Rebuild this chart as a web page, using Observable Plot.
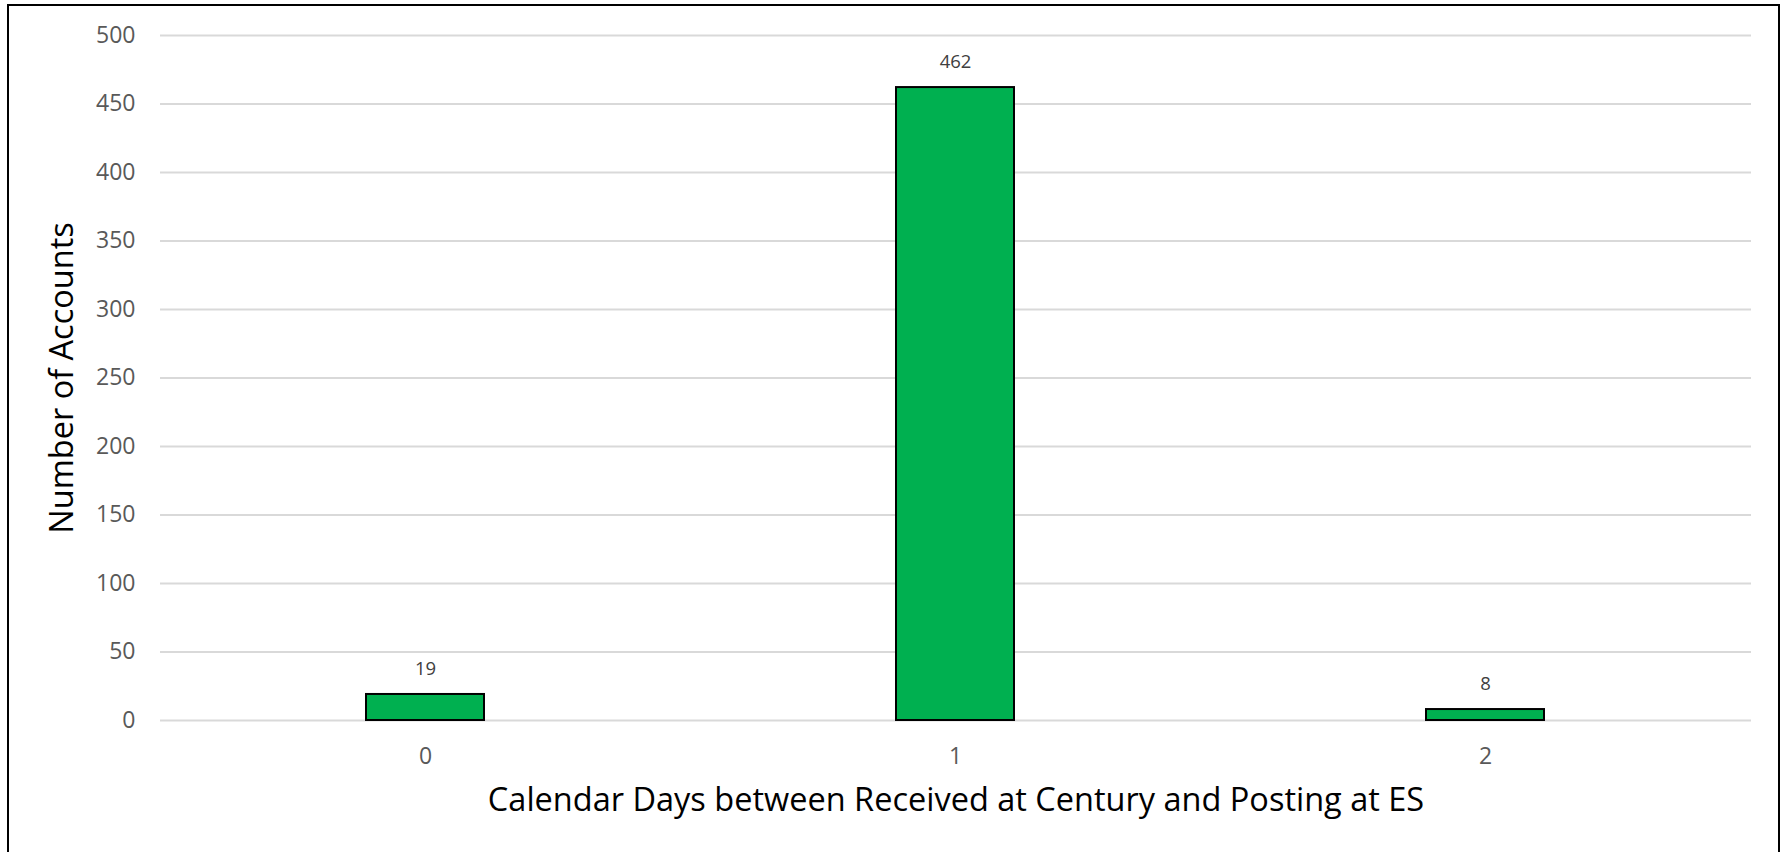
<!DOCTYPE html>
<html><head><meta charset="utf-8">
<script src="https://cdn.jsdelivr.net/npm/d3@7"></script>
<script src="https://cdn.jsdelivr.net/npm/@observablehq/plot@0.6"></script>
<style>
html,body{margin:0;padding:0;background:#fff;overflow:hidden;}
#wrap{position:relative;width:1783px;height:852px;}
#border{position:absolute;left:7px;top:4px;width:1773px;height:900px;border:2px solid #000;box-sizing:border-box;pointer-events:none;}
</style></head><body><div id="wrap"><div id="chart"></div><div id="border"></div></div>
<script>
const days = ["0", "1", "2"];
const counts = [19, 462, 8];
const yTicks = [0, 50, 100, 150, 200, 250, 300, 350, 400, 450, 500];
const xTitle = "Calendar Days between Received at Century and Posting at ES";
const yTitle = "Number of Accounts";

const data = days.map((d, i) => ({day: d, count: counts[i]}));

const chart = Plot.plot({
  width: 1783,
  height: 852,
  marginLeft: 160,
  marginRight: 32,
  marginTop: 35,
  marginBottom: 132,
  style: {fontFamily: "'Open Sans', sans-serif", background: "transparent"},
  x: {domain: days, paddingInner: 0.777, paddingOuter: 0.3885},
  y: {domain: [0, 500]},
  marks: [
    Plot.gridY(yTicks, {stroke: "#d9d9d9", strokeOpacity: 1, strokeWidth: 2}),
    Plot.barY(data, {x: "day", y: "count", fill: "#00B050", stroke: "#000", strokeWidth: 2}),
    Plot.text(data, {x: "day", y: "count", text: d => String(d.count), dy: -25, fontSize: 18.5, fill: "#404040"}),
    Plot.axisY(yTicks, {tickSize: 0, tickPadding: 25, fontSize: 23, color: "#595959", label: null}),
    Plot.axisY([], {tickSize: 0, fontSize: 32.5, color: "#000", label: yTitle, labelAnchor: "center", labelArrow: "none", labelOffset: 111}),
    Plot.axisX({tickSize: 0, tickPadding: 27, fontSize: 23, color: "#595959", label: null}),
    Plot.axisX([], {tickSize: 0, fontSize: 32.5, color: "#000", label: xTitle, labelAnchor: "center", labelArrow: "none", labelOffset: 90})
  ]
});
document.getElementById("chart").appendChild(chart);
</script>
</body></html>
